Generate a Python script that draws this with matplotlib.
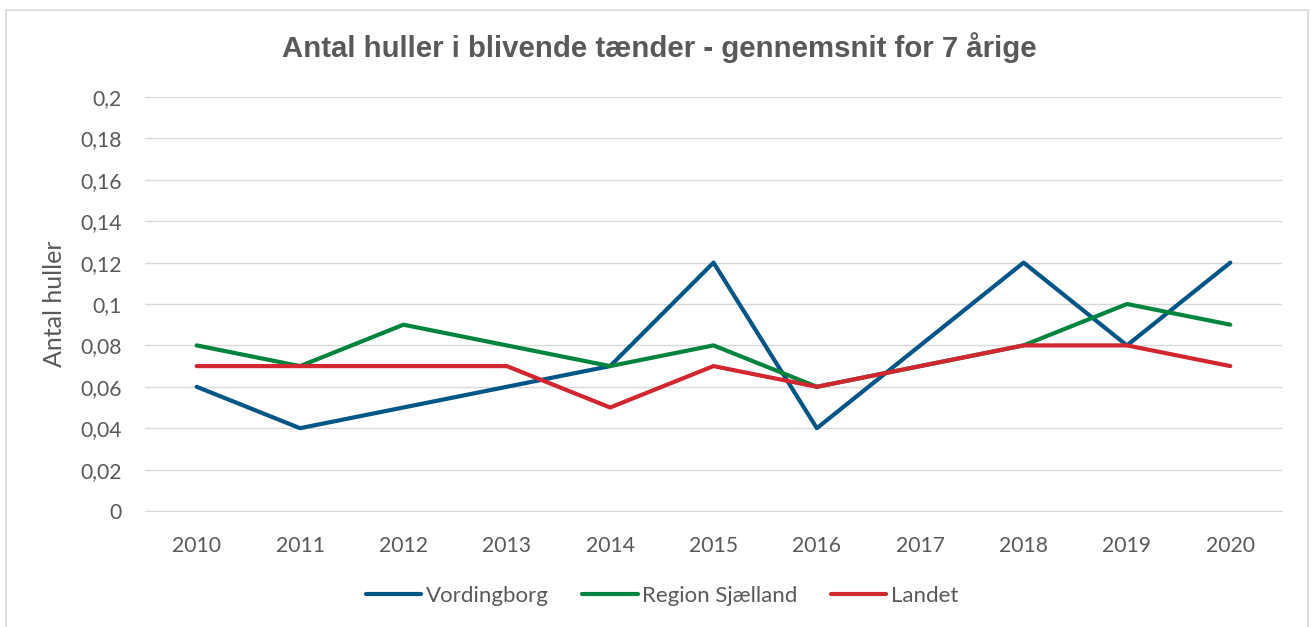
import matplotlib
matplotlib.use("Agg")
import matplotlib.pyplot as plt
from matplotlib.patches import Rectangle
from matplotlib.ticker import FixedLocator

years = ["2010", "2011", "2012", "2013", "2014", "2015", "2016", "2017", "2018", "2019", "2020"]
vordingborg = [0.06, 0.04, 0.05, 0.06, 0.07, 0.12, 0.04, 0.08, 0.12, 0.08, 0.12]
region_sjaelland = [0.08, 0.07, 0.09, 0.08, 0.07, 0.08, 0.06, 0.07, 0.08, 0.10, 0.09]
landet = [0.07, 0.07, 0.07, 0.07, 0.05, 0.07, 0.06, 0.07, 0.08, 0.08, 0.07]
yticks = [0, 0.02, 0.04, 0.06, 0.08, 0.1, 0.12, 0.14, 0.16, 0.18, 0.2]
ytick_labels = ["0", "0,02", "0,04", "0,06", "0,08", "0,1", "0,12", "0,14", "0,16", "0,18", "0,2"]

W, H = 1311, 627
fig = plt.figure(figsize=(W / 100, H / 100), dpi=100)
fig.patch.set_facecolor("white")
fig.patches.append(Rectangle((6 / W, -0.05), (1308 - 6) / W, 1 - 10 / H + 0.05,
                             transform=fig.transFigure, fill=False,
                             edgecolor="#D9D9D9", linewidth=1.2))

ax = fig.add_axes([145 / W, 1 - 511 / H, (1282 - 145) / W, (511 - 97) / H])
x = list(range(len(years)))
ax.plot(x, vordingborg, color="#005587", lw=3, solid_capstyle="round", label="Vordingborg")
ax.plot(x, region_sjaelland, color="#00843D", lw=3, solid_capstyle="round", label="Region Sjælland")
ax.plot(x, landet, color="#D22630", lw=3, solid_capstyle="round", label="Landet")

ax.set_xlim(-0.5, len(years) - 0.5)
ax.set_ylim(0, 0.2)
ax.yaxis.set_major_locator(FixedLocator(yticks))
ax.set_yticklabels(ytick_labels)
ax.set_xticks(x)
ax.set_xticklabels(years)
ax.grid(axis="y", color="#D9D9D9", lw=1)
ax.set_axisbelow(True)
for s in ax.spines.values():
    s.set_visible(False)
ax.spines["bottom"].set_visible(True)
ax.spines["bottom"].set_color("#D9D9D9")
ax.tick_params(length=0, labelsize=15.2, labelcolor="#595959")
ax.tick_params(axis="x", pad=18)
ax.tick_params(axis="y", pad=16.5)
for lab in ax.get_xticklabels() + ax.get_yticklabels():
    lab.set_family("Lato")
ax.set_ylabel("Antal huller", fontsize=18, color="#595959", family="Lato")
ax.yaxis.set_label_coords((66 - 145) / (1282 - 145), 0.5)

fig.text(659 / W, 1 - 48 / H, "Antal huller i blivende tænder - gennemsnit for 7 årige",
         ha="center", va="center", fontsize=21.2, fontweight="bold", color="#595959",
         family="Liberation Sans")

leg = fig.legend(loc="center", bbox_to_anchor=(662 / W, 1 - 596 / H), ncol=3, frameon=False,
                 prop={"family": "Lato", "size": 16}, handlelength=2.5, columnspacing=1.5,
                 handletextpad=0.2)
for t in leg.get_texts():
    t.set_color("#595959")

fig.savefig("out.png", dpi=100, facecolor="white")
